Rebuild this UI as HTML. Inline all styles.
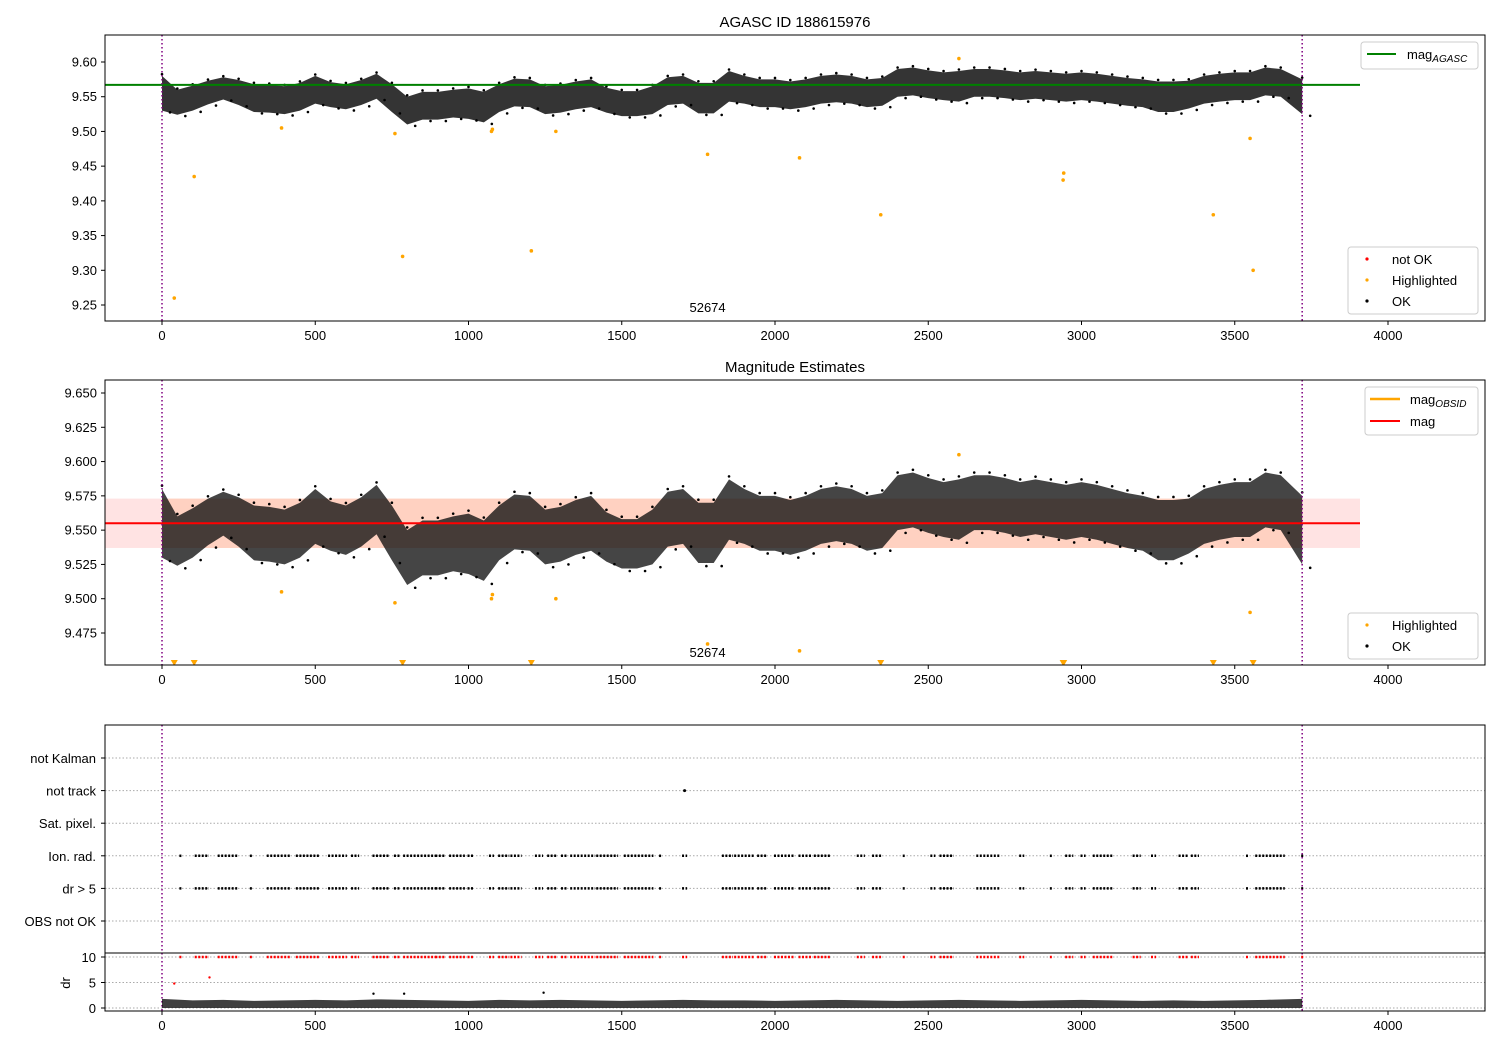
<!DOCTYPE html>
<html><head><meta charset="utf-8"><style>
body{margin:0;background:#fff}
svg{font-family:"Liberation Sans","DejaVu Sans",sans-serif}
</style></head><body>
<svg id="fig" width="1500" height="1050" xmlns="http://www.w3.org/2000/svg"></svg>
<script>
// ---- data ----
const binX=[0,50,100,150,200,250,300,350,400,450,500,550,600,650,700,750,800,850,900,950,1000,1050,1100,1150,1200,1250,1300,1350,1400,1450,1500,1550,1600,1650,1700,1750,1800,1850,1900,1950,2000,2050,2100,2150,2200,2250,2300,2350,2400,2450,2500,2550,2600,2650,2700,2750,2800,2850,2900,2950,3000,3050,3100,3150,3200,3250,3300,3350,3400,3450,3500,3550,3600,3650,3720];
const binMean=[9.555,9.542,9.548,9.556,9.562,9.556,9.548,9.547,9.545,9.55,9.56,9.553,9.55,9.556,9.565,9.548,9.53,9.537,9.537,9.54,9.54,9.535,9.548,9.556,9.555,9.545,9.547,9.552,9.555,9.545,9.54,9.54,9.545,9.558,9.56,9.548,9.548,9.565,9.56,9.555,9.555,9.552,9.555,9.56,9.562,9.56,9.555,9.557,9.57,9.572,9.568,9.565,9.565,9.57,9.57,9.568,9.565,9.567,9.565,9.563,9.565,9.563,9.56,9.557,9.555,9.55,9.55,9.553,9.56,9.563,9.565,9.565,9.572,9.57,9.55];
const binSpread=[0.025,0.018,0.018,0.017,0.016,0.018,0.02,0.02,0.02,0.02,0.02,0.018,0.018,0.018,0.018,0.02,0.02,0.02,0.02,0.02,0.022,0.022,0.02,0.02,0.02,0.02,0.02,0.02,0.02,0.018,0.018,0.018,0.02,0.02,0.02,0.022,0.022,0.022,0.02,0.02,0.02,0.02,0.02,0.02,0.02,0.02,0.02,0.02,0.02,0.02,0.02,0.02,0.022,0.02,0.02,0.02,0.02,0.02,0.02,0.02,0.02,0.02,0.02,0.02,0.02,0.022,0.022,0.02,0.02,0.02,0.02,0.02,0.02,0.02,0.025];
const hiX=[40,105,390,760,785,1075,1078,1205,1285,1780,2080,2345,2600,2940,2942,3430,3550,3560];
const hiY=[9.26,9.435,9.505,9.497,9.32,9.5,9.503,9.328,9.5,9.467,9.462,9.38,9.605,9.43,9.44,9.38,9.49,9.30];
const magAgasc=9.567, magObs=9.555, magLo=9.537, magHi=9.573;
const segStart=[60,110,185,290,345,440,545,620,690,760,790,895,940,1000,1070,1100,1140,1220,1260,1305,1335,1420,1510,1625,1700,1830,1870,1945,2000,2080,2130,2270,2320,2420,2510,2540,2660,2800,2900,2950,3000,3040,3170,3230,3320,3360,3540,3570,3720];
const segEnd=[60,150,245,290,415,510,600,640,740,775,890,920,985,1015,1080,1130,1170,1240,1285,1320,1410,1485,1600,1625,1710,1860,1930,1970,2060,2115,2180,2290,2345,2420,2520,2580,2730,2810,2900,2970,3010,3100,3190,3240,3345,3380,3540,3660,3720];
const notTrackX=[1705];
const drX=[0,100,200,300,400,500,600,700,800,900,1000,1100,1200,1300,1400,1500,1600,1700,1800,1900,2000,2100,2200,2300,2400,2500,2600,2700,2800,2900,3000,3100,3200,3300,3400,3500,3600,3720];
const drHi=[1.8,1.5,1.6,1.4,1.5,1.6,1.5,1.7,1.6,1.5,1.4,1.6,1.5,1.6,1.5,1.4,1.5,1.6,1.5,1.5,1.4,1.5,1.6,1.5,1.4,1.5,1.6,1.5,1.4,1.5,1.6,1.5,1.4,1.5,1.4,1.5,1.6,1.8];
const drOutX=[40,155,690,790,1245];
const drOutY=[4.8,6.0,2.8,2.8,3.0];
const xTicks=[0,500,1000,1500,2000,2500,3000,3500,4000];
const y1Ticks=[9.25,9.30,9.35,9.40,9.45,9.50,9.55,9.60];
const y2Ticks=[9.475,9.500,9.525,9.550,9.575,9.600,9.625,9.650];
const flagRows=["not Kalman","not track","Sat. pixel.","Ion. rad.","dr > 5","OBS not OK"];
const drTicks=[0,5,10];

// ---- helpers ----
const NS="http://www.w3.org/2000/svg", svg=document.getElementById('fig');
function el(t,a,p){const e=document.createElementNS(NS,t);for(const k in a)e.setAttribute(k,a[k]);(p||svg).appendChild(e);return e;}
const X0=105,X1=1485;
const xs=v=>162+v*0.3065;
const y1=v=>62+(9.60-v)*694.3;
const y2=v=>393+(9.650-v)*1371.4;
const yRow=i=>758+i*32.6;
const yDr=v=>1008-v*5.1;

function xAxis(yb){
  xTicks.forEach(t=>{
    const l=el('line',{x1:xs(t),x2:xs(t),y1:yb,y2:yb+4,stroke:'#000'});
    
    const tx=el('text',{x:xs(t),y:yb+19,'font-size':13,'text-anchor':'middle'});tx.textContent=t;
    
  });
}
function yAxis(ticks,f,fmt){
  ticks.forEach(t=>{
    el('line',{x1:X0-4,x2:X0,y1:f(t),y2:f(t),stroke:'#000'});
    const tx=el('text',{x:X0-8,y:f(t)+4.5,'font-size':13,'text-anchor':'end'});tx.textContent=fmt(t);
    
  });
}
function band(f,g,op){
  let up=binX.map((x,i)=>xs(x)+','+f(binMean[i]+binSpread[i])).join(' ');
  let dn=binX.slice().reverse().map((x,j)=>{const i=binX.length-1-j;return xs(x)+','+f(binMean[i]-binSpread[i]);}).join(' ');
  const p=el('polygon',{points:up+' '+dn,fill:'#111','fill-opacity':op},g);
  
  binX.forEach((x,i)=>{
    el('circle',{cx:xs(x),cy:f(binMean[i]+binSpread[i]*1.1),r:1.3,fill:'#000'},g);
    el('circle',{cx:xs(x)+8,cy:f(binMean[i]-binSpread[i]*1.1),r:1.3,fill:'#000'},g);
  });
}
function vlines(top,bot){
  [0,3720].forEach(v=>{const l=el('line',{x1:xs(v),x2:xs(v),y1:top,y2:bot,stroke:'#800080','stroke-width':1.5,'stroke-dasharray':'1.5,2.5'});
  });
}
function clip(id,y0,h){const c=el('clipPath',{id:id});el('rect',{x:X0,y:y0,width:X1-X0,height:h},c);const g=el('g',{'clip-path':'url(#'+id+')'});return g;}

// ---- Panel 1 ----
let t=el('text',{x:795,y:27,'font-size':15,'text-anchor':'middle'});t.textContent='AGASC ID 188615976';

let g1=clip('c1',35,286);
band(y1,g1,0.85);
hiX.forEach((x,i)=>{const c=el('circle',{cx:xs(x),cy:y1(hiY[i]),r:1.8,fill:'orange'},g1);
 });
let ln=el('line',{x1:X0,x2:1360,y1:y1(magAgasc),y2:y1(magAgasc),stroke:'green','stroke-width':2});

vlines(35,321);
t=el('text',{x:xs(1780),y:312,'font-size':13,'text-anchor':'middle'});t.textContent='52674';

el('rect',{x:X0,y:35,width:X1-X0,height:286,fill:'none',stroke:'#000'});
xAxis(321);yAxis(y1Ticks,y1,v=>v.toFixed(2));
// legends
let lg=el('g',{});
el('rect',{x:1361,y:42,width:117,height:27,rx:3,fill:'#fff',stroke:'#ccc'},lg);
el('line',{x1:1367,x2:1396,y1:54,y2:54,stroke:'green','stroke-width':2},lg);
t=el('text',{x:1407,y:59,'font-size':13},lg);t.innerHTML='mag<tspan font-size="10" font-style="italic" dy="3">AGASC</tspan>';
lg=el('g',{});
el('rect',{x:1348,y:247,width:130,height:67,rx:3,fill:'#fff',stroke:'#ccc'},lg);
[['red','not OK',259],['orange','Highlighted',280],['black','OK',301]].forEach(a=>{
 el('circle',{cx:1367,cy:a[2],r:1.6,fill:a[0]},lg);const tt=el('text',{x:1392,y:a[2]+5,'font-size':13},lg);tt.textContent=a[1];});

// ---- Panel 2 ----
t=el('text',{x:795,y:372,'font-size':15,'text-anchor':'middle'});t.textContent='Magnitude Estimates';

let g2=clip('c2',380,285);
let r=el('rect',{x:X0,y:y2(magHi),width:1360-X0,height:y2(magLo)-y2(magHi),fill:'#ffcccc','fill-opacity':0.55},g2);

el('rect',{x:xs(0),y:y2(magHi),width:xs(3720)-xs(0),height:y2(magLo)-y2(magHi),fill:'#ffb080','fill-opacity':0.35},g2);
band(y2,g2,0.78);
hiX.forEach((x,i)=>{
 if(hiY[i]>9.452){const c=el('circle',{cx:xs(x),cy:y2(hiY[i]),r:1.8,fill:'orange'},g2);
  }
 else{const X=xs(x);const c=el('polygon',{points:(X-3.5)+',660 '+(X+3.5)+',660 '+X+',666',fill:'orange'},g2);
  }
});
ln=el('line',{x1:X0,x2:1360,y1:y2(magObs),y2:y2(magObs),stroke:'red','stroke-width':2});

vlines(380,665);
t=el('text',{x:xs(1780),y:657,'font-size':13,'text-anchor':'middle'});t.textContent='52674';
el('rect',{x:X0,y:380,width:X1-X0,height:285,fill:'none',stroke:'#000'});
xAxis(665);yAxis(y2Ticks,y2,v=>v.toFixed(3));
lg=el('g',{});
el('rect',{x:1365,y:387,width:113,height:48,rx:3,fill:'#fff',stroke:'#ccc'},lg);
el('line',{x1:1370,x2:1400,y1:399,y2:399,stroke:'orange','stroke-width':2.5},lg);
t=el('text',{x:1410,y:404,'font-size':13},lg);t.innerHTML='mag<tspan font-size="10" font-style="italic" dy="3">OBSID</tspan>';
el('line',{x1:1370,x2:1400,y1:421,y2:421,stroke:'red','stroke-width':2},lg);
t=el('text',{x:1410,y:426,'font-size':13},lg);t.textContent='mag';
lg=el('g',{});
el('rect',{x:1348,y:613,width:130,height:46,rx:3,fill:'#fff',stroke:'#ccc'},lg);
[['orange','Highlighted',625],['black','OK',646]].forEach(a=>{
 el('circle',{cx:1367,cy:a[2],r:1.6,fill:a[0]},lg);const tt=el('text',{x:1392,y:a[2]+5,'font-size':13},lg);tt.textContent=a[1];});

// ---- Panel 3: flags ----
flagRows.forEach((n,i)=>{
 el('line',{x1:X0,x2:X1,y1:yRow(i),y2:yRow(i),stroke:'#aaa','stroke-dasharray':'1.5,2'});
 el('line',{x1:X0-4,x2:X0,y1:yRow(i),y2:yRow(i),stroke:'#000'});
 const tt=el('text',{x:X0-9,y:yRow(i)+5,'font-size':13,'text-anchor':'end'});tt.textContent=n;
 
});
[3,4].forEach(row=>{
 segStart.forEach((s,i)=>{
  const a=xs(s),b=xs(segEnd[i]);
  const l=el('line',{x1:a-1,x2:b+1,y1:yRow(row),y2:yRow(row),stroke:'#000','stroke-width':2.5,'stroke-dasharray':'2,1.5'});
  
 });
});
notTrackX.forEach(x=>{el('circle',{cx:xs(x),cy:yRow(1),r:1.5,fill:'#000'});});
vlines(725,1011);
el('rect',{x:X0,y:725,width:X1-X0,height:228,fill:'none',stroke:'#000'});
// dr panel
drTicks.forEach(v=>{el('line',{x1:X0,x2:X1,y1:yDr(v),y2:yDr(v),stroke:'#aaa','stroke-dasharray':'1.5,2'});});
let up=drX.map((x,i)=>xs(x)+','+yDr(drHi[i])).join(' ');
let p=el('polygon',{points:up+' '+xs(3720)+','+yDr(0)+' '+xs(0)+','+yDr(0),fill:'#000','fill-opacity':0.75});

segStart.forEach((s,i)=>{
 const l=el('line',{x1:xs(s)-1,x2:xs(segEnd[i])+1,y1:yDr(10),y2:yDr(10),stroke:'red','stroke-width':2.5,'stroke-dasharray':'2,1.5'});
 
});
drOutX.forEach((x,i)=>el('circle',{cx:xs(x),cy:yDr(drOutY[i]),r:1.2,fill:i<2?'red':'#000'}));
el('rect',{x:X0,y:953,width:X1-X0,height:58,fill:'none',stroke:'#000'});
drTicks.forEach(v=>{el('line',{x1:X0-4,x2:X0,y1:yDr(v),y2:yDr(v),stroke:'#000'});
 const tt=el('text',{x:X0-9,y:yDr(v)+5,'font-size':13,'text-anchor':'end'});tt.textContent=v;});
t=el('text',{x:0,y:0,'font-size':13,'text-anchor':'middle',transform:'translate(70,983) rotate(-90)'});t.textContent='dr';

xAxis(1011);
</script>
</body></html>
